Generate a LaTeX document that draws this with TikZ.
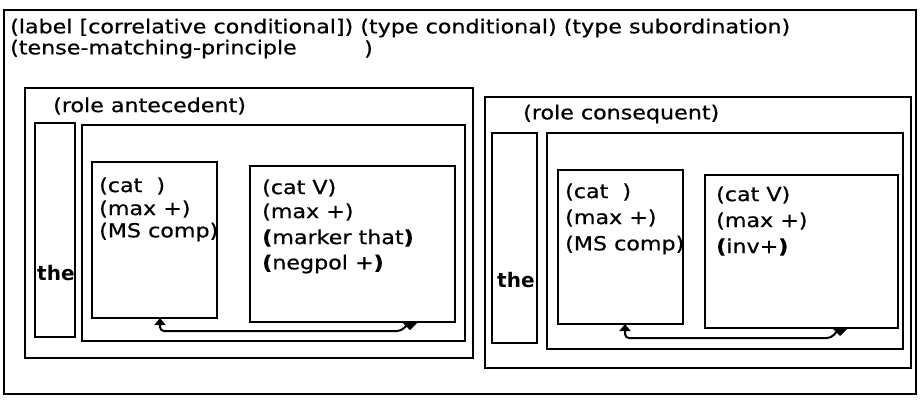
\documentclass[tikz,border=0pt]{standalone}
\usepackage{fontspec}
\newfontfamily\geneva[FakeStretch=1.15,FakeBold=0.6]{DejaVu Sans}
\newfontfamily\thefont{DejaVu Sans}
\usetikzlibrary{arrows.meta}
\tikzset{
  box/.style={draw, line width=2pt, anchor=north west, inner sep=0pt, outer sep=0pt},
  txt/.style={anchor=west, inner sep=0pt, font=\geneva\fontsize{19.3}{23}\selectfont},
  thetxt/.style={anchor=west, inner sep=0pt, font=\thefont\bfseries\fontsize{20}{24}\selectfont},
  conn/.style={line width=2pt, rounded corners=4pt},
  tip/.style={-{Triangle[width=11pt,length=7pt]}},
}
\newcommand{\bp}[1]{\textbf{(}#1\textbf{)}}
\begin{document}
\begin{tikzpicture}[x=1pt,y=-1pt]
\useasboundingbox (0,0) rectangle (920,400);
% boxes
\node[box, minimum width=912pt, minimum height=384pt] (outer) at (4,10) {};
\node[box, minimum width=448pt, minimum height=270pt] (ante) at (25,88) {};
\node[box, minimum width=40pt, minimum height=214pt] (athe) at (35,123) {};
\node[box, minimum width=383pt, minimum height=216pt] (acont) at (82,125) {};
\node[box, minimum width=125pt, minimum height=156pt] (a1) at (92,162) {};
\node[box, minimum width=205pt, minimum height=156pt] (a2) at (250,166) {};
\node[box, minimum width=426pt, minimum height=271pt] (cons) at (485,97) {};
\node[box, minimum width=45pt, minimum height=210pt] (cthe) at (492,133) {};
\node[box, minimum width=356pt, minimum height=216pt] (ccont) at (547,133) {};
\node[box, minimum width=125pt, minimum height=154pt] (c1) at (558,170) {};
\node[box, minimum width=193pt, minimum height=153pt] (c2) at (705,175) {};
% header texts
\node[txt] (h1) at (10,28) {(label [correlative conditional]) (type conditional) (type subordination)};
\node[txt] (h2) at (10,49) {(tense-matching-principle};
\node[txt] (h2b) at (364,49) {)};
\node[txt] (ra) at (53,106) {(role antecedent)};
\node[txt] (rc) at (523,114) {(role consequent)};
\node[thetxt] (t1) at (37,273) {the};
\node[thetxt] (t2) at (497,280) {the};
% antecedent features
\node[txt] (a1l1) at (99,186) {(cat~~)};
\node[txt] (a1l2) at (99,209) {(max +)};
\node[txt] (a1l3) at (99,232) {(MS comp)};
\node[txt] (a2l1) at (262,188) {(cat V)};
\node[txt] (a2l2) at (262,212) {(max +)};
\node[txt] (a2l3) at (262,238) {\bp{marker that}};
\node[txt] (a2l4) at (262,264) {\bp{negpol +}};
% consequent features
\node[txt] (c1l1) at (565,192) {(cat~~)};
\node[txt] (c1l2) at (565,218) {(max +)};
\node[txt] (c1l3) at (565,245) {(MS comp)};
\node[txt] (c2l1) at (716,195) {(cat V)};
\node[txt] (c2l2) at (716,221) {(max +)};
\node[txt] (c2l3) at (716,247) {\bp{inv+}};
% connectors
\draw[conn, tip] ([xshift=-45pt]a2.south east) -- ++(-9,9) -| ([xshift=68pt]a1.south west);
\fill ([xshift=-53pt]a2.south east) -- ([xshift=-37pt]a2.south east) -- ([xshift=-45pt,yshift=-8pt]a2.south east) -- cycle;
\draw[conn, tip] ([xshift=-58pt]c2.south east) -- ++(-9,10) -| ([xshift=67pt]c1.south west);
\fill ([xshift=-66pt]c2.south east) -- ([xshift=-50pt]c2.south east) -- ([xshift=-58pt,yshift=-8pt]c2.south east) -- cycle;
\end{tikzpicture}
\end{document}
